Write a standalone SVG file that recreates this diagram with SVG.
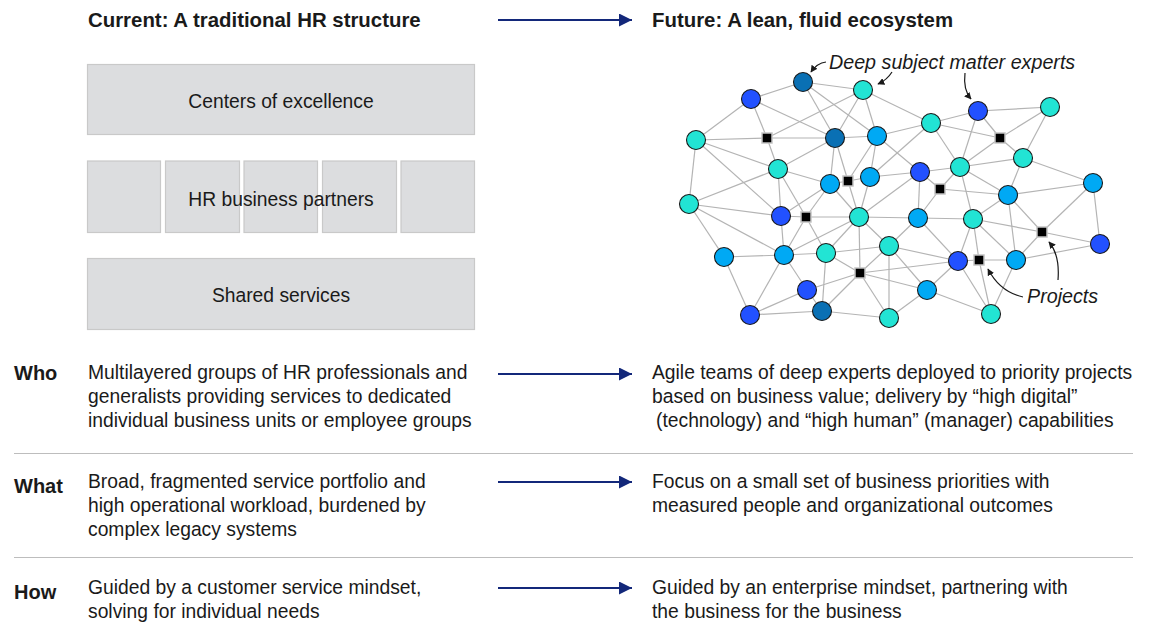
<svg xmlns="http://www.w3.org/2000/svg" width="1149" height="622" viewBox="0 0 1149 622">
<defs>
<style>
text{font-family:"Liberation Sans",Arial,sans-serif;fill:#1a1a1a}
.h{font-size:20.4px;font-weight:bold}
.t{font-size:19.3px}
.lbl{font-size:20px;font-weight:bold}
.it{font-size:19.7px;font-style:italic}
.box{fill:#dcdddf;stroke:#c9c9c9;stroke-width:1.2}
.e line{stroke:#b4b4b4;stroke-width:1.2}
.nav{stroke:#13287a;stroke-width:2;fill:none}
.sep{stroke:#bdbdbd;stroke-width:1}
circle{stroke:#1a1a1a;stroke-width:1.1}
.dk{fill:#0a70b4}.bb{fill:#2251ff}.cy{fill:#00a9f4}.tl{fill:#22e4d4}
.sq{fill:#000;stroke:#c4c4c4;stroke-width:1.5}
.ann{stroke:#1a1a1a;stroke-width:1.2;fill:none}
</style>
<marker id="ah" viewBox="0 0 10 10" refX="10" refY="5" markerWidth="13" markerHeight="13" markerUnits="userSpaceOnUse" orient="auto"><path d="M0,0L10,5L0,10Z" fill="#13287a"/></marker>
<marker id="sa" viewBox="0 0 10 10" refX="9" refY="5" markerWidth="7" markerHeight="7" markerUnits="userSpaceOnUse" orient="auto"><path d="M0,0L10,5L0,10Z" fill="#1a1a1a"/></marker>
</defs>
<rect width="1149" height="622" fill="#fff"/>

<g id="titles">
<text class="h" x="88" y="27">Current: A traditional HR structure</text>
<text class="h" x="652" y="27">Future: A lean, fluid ecosystem</text>
</g>

<g id="coe"><rect class="box" x="87.5" y="64.5" width="387" height="70"/><text class="t" x="281" y="108" text-anchor="middle">Centers of excellence</text></g>
<g id="hrbp">
<rect class="box" x="87.5" y="161" width="73" height="71.5"/>
<rect class="box" x="165.5" y="161" width="74" height="71.5"/>
<rect class="box" x="244" y="161" width="73.5" height="71.5"/>
<rect class="box" x="322.5" y="161" width="74" height="71.5"/>
<rect class="box" x="401" y="161" width="73.5" height="71.5"/>
<text class="t" x="281" y="206" text-anchor="middle">HR business partners</text>
</g>
<g id="ss"><rect class="box" x="87.5" y="258.5" width="387" height="71"/><text class="t" x="281" y="302" text-anchor="middle">Shared services</text></g>

<g id="arrows">
<line class="nav" x1="498" y1="20" x2="632" y2="20" marker-end="url(#ah)"/>
<line class="nav" x1="498" y1="374" x2="632" y2="374" marker-end="url(#ah)"/>
<line class="nav" x1="498" y1="482" x2="632" y2="482" marker-end="url(#ah)"/>
<line class="nav" x1="498" y1="588" x2="632" y2="588" marker-end="url(#ah)"/>
</g>

<g class="e" id="connectors">
<line x1="803" y1="82" x2="751" y2="99"/><line x1="803" y1="82" x2="863" y2="90"/><line x1="803" y1="82" x2="835" y2="138"/><line x1="803" y1="82" x2="877" y2="136"/>
<line x1="751" y1="99" x2="696" y2="140"/><line x1="751" y1="99" x2="767" y2="138"/><line x1="751" y1="99" x2="835" y2="138"/>
<line x1="863" y1="90" x2="767" y2="138"/><line x1="863" y1="90" x2="835" y2="138"/><line x1="863" y1="90" x2="877" y2="136"/><line x1="863" y1="90" x2="931" y2="123"/>
<line x1="696" y1="140" x2="767" y2="138"/><line x1="696" y1="140" x2="778" y2="169"/><line x1="696" y1="140" x2="689" y2="204"/><line x1="696" y1="140" x2="781" y2="216"/>
<line x1="767" y1="138" x2="835" y2="138"/><line x1="767" y1="138" x2="778" y2="169"/>
<line x1="835" y1="138" x2="877" y2="136"/><line x1="835" y1="138" x2="778" y2="169"/><line x1="835" y1="138" x2="830" y2="184"/><line x1="835" y1="138" x2="848" y2="181"/>
<line x1="877" y1="136" x2="848" y2="181"/><line x1="877" y1="136" x2="870" y2="177"/><line x1="877" y1="136" x2="931" y2="123"/><line x1="877" y1="136" x2="920" y2="172"/>
<line x1="931" y1="123" x2="870" y2="177"/><line x1="931" y1="123" x2="978" y2="111"/><line x1="931" y1="123" x2="1000" y2="138"/><line x1="931" y1="123" x2="960" y2="167"/>
<line x1="978" y1="111" x2="1050" y2="107"/><line x1="978" y1="111" x2="1000" y2="138"/><line x1="978" y1="111" x2="960" y2="167"/>
<line x1="1050" y1="107" x2="1000" y2="138"/><line x1="1050" y1="107" x2="1023" y2="158"/>
<line x1="1000" y1="138" x2="960" y2="167"/><line x1="1000" y1="138" x2="1023" y2="158"/>
<line x1="960" y1="167" x2="1023" y2="158"/><line x1="960" y1="167" x2="920" y2="172"/><line x1="960" y1="167" x2="1008" y2="195"/><line x1="960" y1="167" x2="973" y2="219"/><line x1="960" y1="167" x2="940" y2="189"/>
<line x1="1023" y1="158" x2="1093" y2="183"/><line x1="1023" y1="158" x2="1008" y2="195"/>
<line x1="1008" y1="195" x2="1093" y2="183"/><line x1="1008" y1="195" x2="1042" y2="232"/><line x1="1008" y1="195" x2="1016" y2="260"/><line x1="1008" y1="195" x2="973" y2="219"/><line x1="1008" y1="195" x2="940" y2="189"/>
<line x1="1093" y1="183" x2="1042" y2="232"/><line x1="1093" y1="183" x2="1100" y2="244"/>
<line x1="778" y1="169" x2="830" y2="184"/><line x1="778" y1="169" x2="689" y2="204"/><line x1="778" y1="169" x2="781" y2="216"/><line x1="778" y1="169" x2="806" y2="217"/>
<line x1="830" y1="184" x2="848" y2="181"/><line x1="830" y1="184" x2="806" y2="217"/><line x1="830" y1="184" x2="859" y2="217"/><line x1="830" y1="184" x2="781" y2="216"/>
<line x1="848" y1="181" x2="870" y2="177"/><line x1="848" y1="181" x2="859" y2="217"/>
<line x1="870" y1="177" x2="920" y2="172"/><line x1="870" y1="177" x2="859" y2="217"/>
<line x1="920" y1="172" x2="940" y2="189"/><line x1="920" y1="172" x2="918" y2="218"/><line x1="920" y1="172" x2="859" y2="217"/>
<line x1="689" y1="204" x2="781" y2="216"/><line x1="689" y1="204" x2="784" y2="255"/><line x1="689" y1="204" x2="724" y2="257"/>
<line x1="781" y1="216" x2="806" y2="217"/><line x1="781" y1="216" x2="784" y2="255"/>
<line x1="806" y1="217" x2="859" y2="217"/><line x1="806" y1="217" x2="784" y2="255"/><line x1="806" y1="217" x2="826" y2="253"/>
<line x1="859" y1="217" x2="918" y2="218"/><line x1="859" y1="217" x2="826" y2="253"/><line x1="859" y1="217" x2="860" y2="273"/><line x1="859" y1="217" x2="889" y2="246"/><line x1="859" y1="217" x2="784" y2="255"/>
<line x1="918" y1="218" x2="973" y2="219"/><line x1="918" y1="218" x2="889" y2="246"/><line x1="918" y1="218" x2="958" y2="261"/><line x1="918" y1="218" x2="940" y2="189"/>
<line x1="973" y1="219" x2="1042" y2="232"/><line x1="973" y1="219" x2="1016" y2="260"/><line x1="973" y1="219" x2="979" y2="260"/><line x1="973" y1="219" x2="958" y2="261"/>
<line x1="1042" y1="232" x2="1100" y2="244"/><line x1="1042" y1="232" x2="1016" y2="260"/>
<line x1="1100" y1="244" x2="1016" y2="260"/>
<line x1="979" y1="260" x2="958" y2="261"/><line x1="979" y1="260" x2="1016" y2="260"/><line x1="979" y1="260" x2="991" y2="314"/>
<line x1="958" y1="261" x2="991" y2="314"/><line x1="958" y1="261" x2="889" y2="246"/><line x1="958" y1="261" x2="860" y2="273"/><line x1="958" y1="261" x2="927" y2="290"/>
<line x1="1016" y1="260" x2="991" y2="314"/>
<line x1="724" y1="257" x2="784" y2="255"/><line x1="724" y1="257" x2="750" y2="315"/>
<line x1="784" y1="255" x2="826" y2="253"/><line x1="784" y1="255" x2="750" y2="315"/><line x1="784" y1="255" x2="807" y2="290"/>
<line x1="826" y1="253" x2="860" y2="273"/><line x1="826" y1="253" x2="822" y2="311"/><line x1="826" y1="253" x2="889" y2="246"/>
<line x1="889" y1="246" x2="860" y2="273"/><line x1="889" y1="246" x2="889" y2="318"/><line x1="889" y1="246" x2="927" y2="290"/>
<line x1="807" y1="290" x2="750" y2="315"/><line x1="807" y1="290" x2="860" y2="273"/><line x1="807" y1="290" x2="822" y2="311"/>
<line x1="822" y1="311" x2="750" y2="315"/><line x1="822" y1="311" x2="860" y2="273"/><line x1="822" y1="311" x2="889" y2="318"/>
<line x1="889" y1="318" x2="860" y2="273"/><line x1="889" y1="318" x2="927" y2="290"/>
<line x1="927" y1="290" x2="860" y2="273"/><line x1="927" y1="290" x2="991" y2="314"/>
</g>

<g id="nodes">
<g id="n1"><circle class="dk" cx="803" cy="82" r="9.5"/></g>
<g id="n2"><circle class="bb" cx="751" cy="99" r="9.5"/></g>
<g id="n3"><circle class="tl" cx="863" cy="90" r="9.5"/></g>
<g id="n4"><circle class="bb" cx="978" cy="111" r="9.5"/></g>
<g id="n5"><circle class="tl" cx="1050" cy="107" r="9.5"/></g>
<g id="n6"><circle class="tl" cx="696" cy="140" r="9.5"/></g>
<g id="n7"><circle class="dk" cx="835" cy="138" r="9.5"/></g>
<g id="n8"><circle class="cy" cx="877" cy="136" r="9.5"/></g>
<g id="n9"><circle class="tl" cx="931" cy="123" r="9.5"/></g>
<g id="n10"><circle class="tl" cx="778" cy="169" r="9.5"/></g>
<g id="n11"><circle class="cy" cx="830" cy="184" r="9.5"/></g>
<g id="n12"><circle class="cy" cx="870" cy="177" r="9.5"/></g>
<g id="n13"><circle class="bb" cx="920" cy="172" r="9.5"/></g>
<g id="n14"><circle class="tl" cx="960" cy="167" r="9.5"/></g>
<g id="n15"><circle class="tl" cx="1023" cy="158" r="9.5"/></g>
<g id="n16"><circle class="cy" cx="1008" cy="195" r="9.5"/></g>
<g id="n17"><circle class="cy" cx="1093" cy="183" r="9.5"/></g>
<g id="n18"><circle class="tl" cx="689" cy="204" r="9.5"/></g>
<g id="n19"><circle class="bb" cx="781" cy="216" r="9.5"/></g>
<g id="n20"><circle class="tl" cx="859" cy="217" r="9.5"/></g>
<g id="n21"><circle class="cy" cx="918" cy="218" r="9.5"/></g>
<g id="n22"><circle class="tl" cx="973" cy="219" r="9.5"/></g>
<g id="n23"><circle class="bb" cx="1100" cy="244" r="9.5"/></g>
<g id="n24"><circle class="cy" cx="724" cy="257" r="9.5"/></g>
<g id="n25"><circle class="cy" cx="784" cy="255" r="9.5"/></g>
<g id="n26"><circle class="tl" cx="826" cy="253" r="9.5"/></g>
<g id="n27"><circle class="tl" cx="889" cy="246" r="9.5"/></g>
<g id="n28"><circle class="bb" cx="958" cy="261" r="9.5"/></g>
<g id="n29"><circle class="cy" cx="1016" cy="260" r="9.5"/></g>
<g id="n30"><circle class="bb" cx="807" cy="290" r="9.5"/></g>
<g id="n31"><circle class="dk" cx="822" cy="311" r="9.5"/></g>
<g id="n32"><circle class="bb" cx="750" cy="315" r="9.5"/></g>
<g id="n33"><circle class="tl" cx="889" cy="318" r="9.5"/></g>
<g id="n34"><circle class="cy" cx="927" cy="290" r="9.5"/></g>
<g id="n35"><circle class="tl" cx="991" cy="314" r="9.5"/></g>
<g id="p1"><rect class="sq" x="762" y="133" width="10" height="10"/></g>
<g id="p2"><rect class="sq" x="843" y="176" width="10" height="10"/></g>
<g id="p3"><rect class="sq" x="995" y="133" width="10" height="10"/></g>
<g id="p4"><rect class="sq" x="935" y="184" width="10" height="10"/></g>
<g id="p5"><rect class="sq" x="801" y="212" width="10" height="10"/></g>
<g id="p6"><rect class="sq" x="1037" y="227" width="10" height="10"/></g>
<g id="p7"><rect class="sq" x="855" y="268" width="10" height="10"/></g>
<g id="p8"><rect class="sq" x="974" y="255" width="10" height="10"/></g>
</g>

<g id="annotations">
<text class="it" x="829" y="69">Deep subject matter experts</text>
<path class="ann" d="M826,62 Q817,63 811,72" marker-end="url(#sa)"/>
<path class="ann" d="M892,72 Q887,80 878,84" marker-end="url(#sa)"/>
<path class="ann" d="M965,73 Q963,90 971,99" marker-end="url(#sa)"/>
<text class="it" x="1027" y="303">Projects</text>
<path class="ann" d="M1023,297 Q1000,292 988,269" marker-end="url(#sa)"/>
<path class="ann" d="M1058,280 Q1060,255 1049,242" marker-end="url(#sa)"/>
</g>

<g id="rows">
<text class="lbl" x="14" y="380">Who</text>
<text class="t" x="88" y="379">Multilayered groups of HR professionals and</text>
<text class="t" x="88" y="403">generalists providing services to dedicated</text>
<text class="t" x="88" y="427">individual business units or employee groups</text>
<text class="t" x="652" y="379">Agile teams of deep experts deployed to priority projects</text>
<text class="t" x="652" y="403">based on business value; delivery by “high digital”</text>
<text class="t" x="656" y="427">(technology) and “high human” (manager) capabilities</text>
<line class="sep" x1="14" y1="453.5" x2="1133" y2="453.5"/>
<text class="lbl" x="14" y="493">What</text>
<text class="t" x="88" y="488">Broad, fragmented service portfolio and</text>
<text class="t" x="88" y="512">high operational workload, burdened by</text>
<text class="t" x="88" y="536">complex legacy systems</text>
<text class="t" x="652" y="488">Focus on a small set of business priorities with</text>
<text class="t" x="652" y="512">measured people and organizational outcomes</text>
<line class="sep" x1="14" y1="557.5" x2="1133" y2="557.5"/>
<text class="lbl" x="14" y="599">How</text>
<text class="t" x="88" y="594">Guided by a customer service mindset,</text>
<text class="t" x="88" y="618">solving for individual needs</text>
<text class="t" x="652" y="594">Guided by an enterprise mindset, partnering with</text>
<text class="t" x="652" y="618">the business for the business</text>
</g>
</svg>
